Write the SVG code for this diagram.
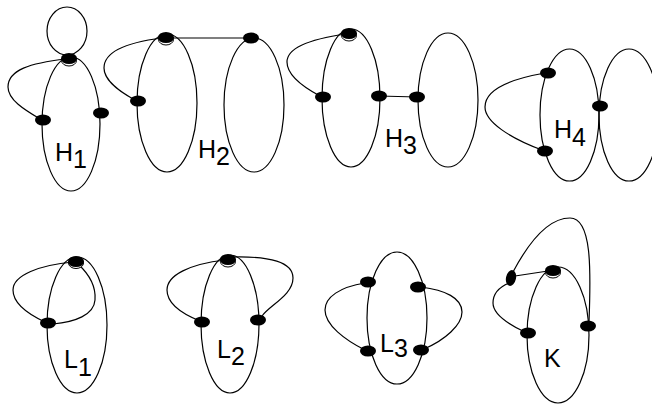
<svg xmlns="http://www.w3.org/2000/svg" width="652" height="405" viewBox="0 0 652 405">
<style>
.e{fill:none;stroke:#000;stroke-width:1.2}
.n{fill:#000}
.r{fill:#fff;stroke:#000;stroke-width:1}
.t{font-family:"Liberation Sans",Arial,sans-serif;font-size:25px;fill:#000}
</style>
<rect width="652" height="405" fill="#fff"/>
<g id="connectors">
<!-- H1 -->
<ellipse class="e" cx="67" cy="31" rx="20" ry="24"/>
<ellipse class="e" cx="71" cy="124" rx="29" ry="67"/>
<path class="e" d="M66,59 C30,63 8,70 8,87 C8,100 25,110 40,119"/>
<!-- H2 -->
<ellipse class="e" cx="167" cy="103" rx="30" ry="69"/>
<ellipse class="e" cx="254" cy="105" rx="30" ry="67"/>
<path class="e" d="M162,38 C130,42 104,50 104,68 C104,80 120,92 135,100"/>
<path class="e" d="M166,38 L252,38"/>
<!-- H3 -->
<ellipse class="e" cx="351" cy="98" rx="29" ry="69"/>
<ellipse class="e" cx="448" cy="100" rx="30" ry="67"/>
<path class="e" d="M346,34 C310,39 287,48 287,62 C287,76 305,88 320,96"/>
<path class="e" d="M379,96 L417,97"/>
<!-- H4 -->
<ellipse class="e" cx="569.5" cy="115" rx="29.5" ry="66"/>
<ellipse class="e" cx="629" cy="115" rx="30" ry="66"/>
<path class="e" d="M545,73 C505,80 485,92 485,107 C485,122 510,138 542,150"/>
<!-- L1 -->
<ellipse class="e" cx="77" cy="325" rx="30" ry="68"/>
<path class="e" d="M73,262 C40,265 13,275 13,290 C13,305 30,315 45,322"/>
<path class="e" d="M78,264 C90,275 96,288 95,300 C94,315 75,322 53,324"/>
<!-- L2 -->
<ellipse class="e" cx="230" cy="324" rx="29" ry="69"/>
<path class="e" d="M225,260 C190,264 167,275 167,290 C167,305 185,315 200,321"/>
<path class="e" d="M232,257 C270,256 293,262 293,278 C293,295 270,305 262,316"/>
<!-- L3 -->
<ellipse class="e" cx="397" cy="318" rx="30" ry="66"/>
<path class="e" d="M365,283 C340,287 325,297 325,310 C325,325 345,340 365,350"/>
<path class="e" d="M421,287 C445,290 462,298 462,312 C462,325 445,340 424,349"/>
<!-- K -->
<ellipse class="e" cx="558" cy="335" rx="31" ry="68"/>
<path class="e" d="M513,272 C530,240 550,218 570,218 C592,218 591,270 589,322"/>
<path class="e" d="M515,276 L548,271"/>
<path class="e" d="M509,283 C497,288 493,295 493,303 C493,315 510,325 525,332"/>
</g>
<g id="h1-top"><ellipse class="r" cx="69" cy="60.5" rx="7.5" ry="5.5"/><ellipse class="n" cx="69" cy="58.5" rx="8" ry="5.5"/></g>
<g id="h1-left"><ellipse class="n" cx="43" cy="120" rx="8" ry="5.5"/></g>
<g id="h1-right"><ellipse class="n" cx="101" cy="113" rx="8" ry="5.5"/></g>
<g id="h2-top-left"><ellipse class="r" cx="166" cy="39.5" rx="7.5" ry="5.5"/><ellipse class="n" cx="166" cy="37.5" rx="8" ry="5.5"/></g>
<g id="h2-left"><ellipse class="n" cx="138" cy="101" rx="8" ry="5.5"/></g>
<g id="h2-top-right"><ellipse class="n" cx="251" cy="38" rx="8" ry="5.5"/></g>
<g id="h3-top"><ellipse class="r" cx="349" cy="35.5" rx="7.5" ry="5.5"/><ellipse class="n" cx="349" cy="33.5" rx="8" ry="5.5"/></g>
<g id="h3-left"><ellipse class="n" cx="323" cy="97" rx="8" ry="5.5"/></g>
<g id="h3-right"><ellipse class="n" cx="379" cy="96" rx="8" ry="5.5"/></g>
<g id="h3-other"><ellipse class="n" cx="417" cy="97" rx="8" ry="5.5"/></g>
<g id="h4-upper"><ellipse class="n" cx="548" cy="73" rx="8" ry="5.5"/></g>
<g id="h4-lower"><ellipse class="n" cx="545" cy="151" rx="8" ry="5.5"/></g>
<g id="h4-middle"><ellipse class="n" cx="600" cy="106" rx="8" ry="5.5"/></g>
<g id="l1-top"><ellipse class="r" cx="76" cy="263" rx="7.5" ry="5.5"/><ellipse class="n" cx="76" cy="261.5" rx="8" ry="5.5"/></g>
<g id="l1-left"><ellipse class="n" cx="48" cy="323" rx="8" ry="5.5"/></g>
<g id="l2-top"><ellipse class="r" cx="228" cy="261.5" rx="7.5" ry="5.5"/><ellipse class="n" cx="228" cy="259.5" rx="8" ry="5.5"/></g>
<g id="l2-left"><ellipse class="n" cx="202" cy="322" rx="8" ry="5.5"/></g>
<g id="l2-right"><ellipse class="n" cx="258" cy="320" rx="8" ry="5.5"/></g>
<g id="l3-ul"><ellipse class="n" cx="368" cy="282" rx="8" ry="5.5"/></g>
<g id="l3-ur"><ellipse class="n" cx="418" cy="287" rx="8" ry="5.5"/></g>
<g id="l3-ll"><ellipse class="n" cx="368" cy="351" rx="8" ry="5.5"/></g>
<g id="l3-lr"><ellipse class="n" cx="421" cy="350" rx="8" ry="5.5"/></g>
<g id="k-top"><ellipse class="r" cx="553" cy="272.5" rx="7.5" ry="5.5"/><ellipse class="n" cx="553" cy="270.5" rx="8" ry="5.5"/></g>
<g id="k-side"><ellipse class="n" cx="511" cy="278" rx="5" ry="8" transform="rotate(12 511 278)"/></g>
<g id="k-left"><ellipse class="n" cx="528" cy="333" rx="8" ry="5.5"/></g>
<g id="k-right"><ellipse class="n" cx="588" cy="326" rx="8" ry="5.5"/></g>
<g id="labels">
<text class="t" x="55" y="160.5">H<tspan dy="7.5">1</tspan></text>
<text class="t" x="198" y="158">H<tspan dy="7">2</tspan></text>
<text class="t" x="385" y="147">H<tspan dy="7">3</tspan></text>
<text class="t" x="554" y="138">H<tspan dy="8">4</tspan></text>
<text class="t" x="64" y="368">L<tspan dy="8">1</tspan></text>
<text class="t" x="217" y="358">L<tspan dy="7">2</tspan></text>
<text class="t" x="380" y="352">L<tspan dy="5">3</tspan></text>
<text class="t" x="544" y="366.5">K</text>
</g>
</svg>
